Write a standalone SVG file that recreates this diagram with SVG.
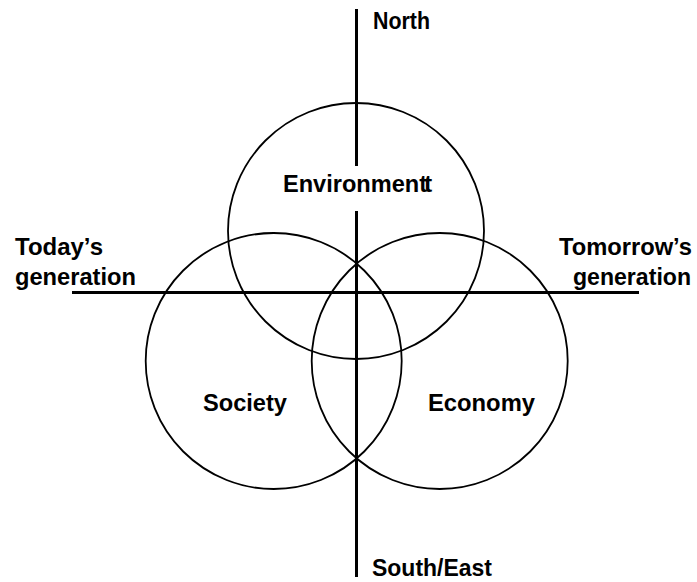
<svg xmlns="http://www.w3.org/2000/svg" width="697" height="582" viewBox="0 0 697 582">
<style>
.c{fill:none;stroke:#000;stroke-width:1.8}
.ax{stroke:#000;stroke-width:3;fill:none}
text{font-family:"Liberation Sans",Arial,sans-serif;font-weight:bold;font-size:24.5px;fill:#000}
</style>
<rect width="697" height="582" fill="#fff"/>
<g id="connectors">
<line class="ax" x1="356.5" y1="9" x2="356.5" y2="166"/>
<line class="ax" x1="356.5" y1="211" x2="356.5" y2="577"/>
<line class="ax" x1="72" y1="292.5" x2="639" y2="292.5"/>
</g>
<g id="environment"><circle class="c" cx="356" cy="231" r="128"/><text x="283" y="192" textLength="144" lengthAdjust="spacingAndGlyphs">Environment</text><text x="424" y="192" fill="#999" font-weight="normal" font-size="24px">t</text></g>
<g id="society"><circle class="c" cx="273.7" cy="361" r="128"/><text x="203" y="411" textLength="84" lengthAdjust="spacingAndGlyphs">Society</text></g>
<g id="economy"><circle class="c" cx="439.7" cy="361" r="128"/><text x="428" y="411" textLength="107" lengthAdjust="spacingAndGlyphs">Economy</text></g>
<g id="north"><text x="373" y="29" textLength="57" lengthAdjust="spacingAndGlyphs">North</text></g>
<g id="south"><text x="372" y="576" textLength="120" lengthAdjust="spacingAndGlyphs">South/East</text></g>
<g id="today"><text x="15" y="255" textLength="88" lengthAdjust="spacingAndGlyphs">Today’s</text><text x="15" y="285" textLength="121" lengthAdjust="spacingAndGlyphs">generation</text></g>
<g id="tomorrow"><text x="559" y="255" textLength="133" lengthAdjust="spacingAndGlyphs">Tomorrow’s</text><text x="573" y="285" textLength="118" lengthAdjust="spacingAndGlyphs">generation</text></g>
</svg>
